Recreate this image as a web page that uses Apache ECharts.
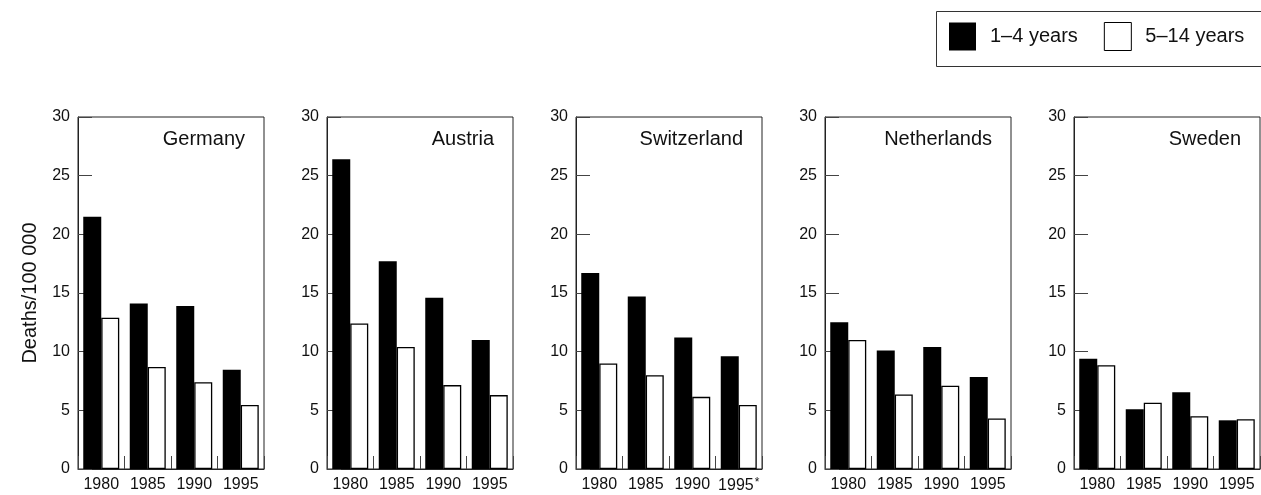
<!DOCTYPE html>
<html>
<head>
<meta charset="utf-8">
<script src="https://cdn.jsdelivr.net/npm/echarts@6/dist/echarts.min.js"></script>
<style>
  html, body { margin: 0; padding: 0; background: #fff; }
  #chart { width: 1261px; height: 495px; }
</style>
</head>
<body>
<div id="chart"></div>
<script>
// ---- data ----
const years = ['1980', '1985', '1990', '1995'];
const countries = ['Germany', 'Austria', 'Switzerland', 'Netherlands', 'Sweden'];
const seriesNames = ['1–4 years', '5–14 years'];

const germany1to4 = [21.5, 14.1, 13.9, 8.45];
const germany5to14 = [12.9, 8.7, 7.4, 5.45];
const austria1to4 = [26.4, 17.7, 14.6, 11.0];
const austria5to14 = [12.4, 10.4, 7.15, 6.3];
const switzerland1to4 = [16.7, 14.7, 11.2, 9.6];
const switzerland5to14 = [9.0, 8.0, 6.15, 5.45];
const netherlands1to4 = [12.5, 10.1, 10.4, 7.85];
const netherlands5to14 = [11.0, 6.35, 7.1, 4.3];
const sweden1to4 = [9.4, 5.1, 6.55, 4.15];
const sweden5to14 = [8.85, 5.65, 4.5, 4.25];

const yMin = 0, yMax = 30, yInterval = 5;
const yAxisTitle = 'Deaths/100 000';
const asteriskCountry = 'Switzerland';
const asteriskYear = '1995';

// ---- layout ----
const young = [germany1to4, austria1to4, switzerland1to4, netherlands1to4, sweden1to4];
const older = [germany5to14, austria5to14, switzerland5to14, netherlands5to14, sweden5to14];
const W = 1261;
const gridLefts = [78, 327, 576, 825, 1074];
const gridWidth = 186, gridTop = 117, gridHeight = 352;
const FONT = 'Liberation Sans, Arial, Helvetica, sans-serif';
const TXT = '#111';

const grids = [], xAxes = [], yAxes = [], series = [], titles = [];
countries.forEach((c, i) => {
  grids.push({ left: gridLefts[i], top: gridTop, width: gridWidth, height: gridHeight,
    show: true, borderColor: '#222', borderWidth: 1, backgroundColor: 'transparent' });
  xAxes.push({
    type: 'category', gridIndex: i, data: years,
    axisLine: { show: true, lineStyle: { color: '#222', width: 1 } },
    axisTick: { show: true, inside: true, length: 13, lineStyle: { color: '#444', width: 1 } },
    axisLabel: {
      fontSize: 16, fontFamily: FONT, color: TXT, margin: 8, interval: 0,
      formatter: (v) => (c === asteriskCountry && v === asteriskYear) ? '{n|' + v + '}{s|*}' : '{n|' + v + '}',
      rich: { n: { fontSize: 16, fontFamily: FONT, color: TXT },
              s: { fontSize: 12, fontFamily: FONT, color: TXT, verticalAlign: 'top', padding: [0, 0, 6, 1] } }
    },
    splitLine: { show: false }
  });
  yAxes.push({
    type: 'value', gridIndex: i, min: yMin, max: yMax, interval: yInterval,
    name: i === 0 ? yAxisTitle : '', nameLocation: 'middle', nameGap: 38, nameRotate: 90,
    nameTextStyle: { fontSize: 20, fontFamily: FONT, color: TXT },
    axisLine: { show: true, lineStyle: { color: '#222', width: 1 } },
    axisTick: { show: true, inside: true, length: 14, lineStyle: { color: '#444', width: 1 } },
    axisLabel: { fontSize: 16, fontFamily: FONT, color: TXT, margin: 8 },
    splitLine: { show: false }
  });
  series.push({
    type: 'bar', name: seriesNames[0], xAxisIndex: i, yAxisIndex: i, data: young[i],
    barWidth: 18, barGap: '0%', itemStyle: { color: '#000' }
  });
  series.push({
    type: 'bar', name: seriesNames[1], xAxisIndex: i, yAxisIndex: i, data: older[i],
    barWidth: 18, barGap: '0%', itemStyle: { color: '#fff', borderColor: '#000', borderWidth: 1.3 }
  });
  titles.push({
    text: c, right: W - (gridLefts[i] + gridWidth - 19), top: 129, padding: 0,
    textStyle: { fontSize: 20, fontWeight: 'normal', fontFamily: FONT, color: TXT }
  });
});

const chart = echarts.init(document.getElementById('chart'), null, { renderer: 'canvas' });
chart.setOption({
  animation: false,
  backgroundColor: '#fff',
  title: titles,
  graphic: [{
    type: 'rect', left: 934, top: 9, silent: true,
    shape: { width: 400, height: 55 },
    style: { fill: 'none', stroke: '#333', lineWidth: 1 }
  }],
  legend: {
    left: 949, top: 22, orient: 'horizontal',
    itemWidth: 27, itemHeight: 28, itemGap: 26,
    padding: 0,
    icon: 'rect',
    textStyle: { fontSize: 20, fontFamily: FONT, color: TXT, padding: [0, 0, 0, 9] },
    data: [
      { name: seriesNames[0], itemStyle: { color: '#000' } },
      { name: seriesNames[1], itemStyle: { color: '#fff', borderColor: '#000', borderWidth: 1 } }
    ]
  },
  grid: grids,
  xAxis: xAxes,
  yAxis: yAxes,
  series: series
});
</script>
</body>
</html>
